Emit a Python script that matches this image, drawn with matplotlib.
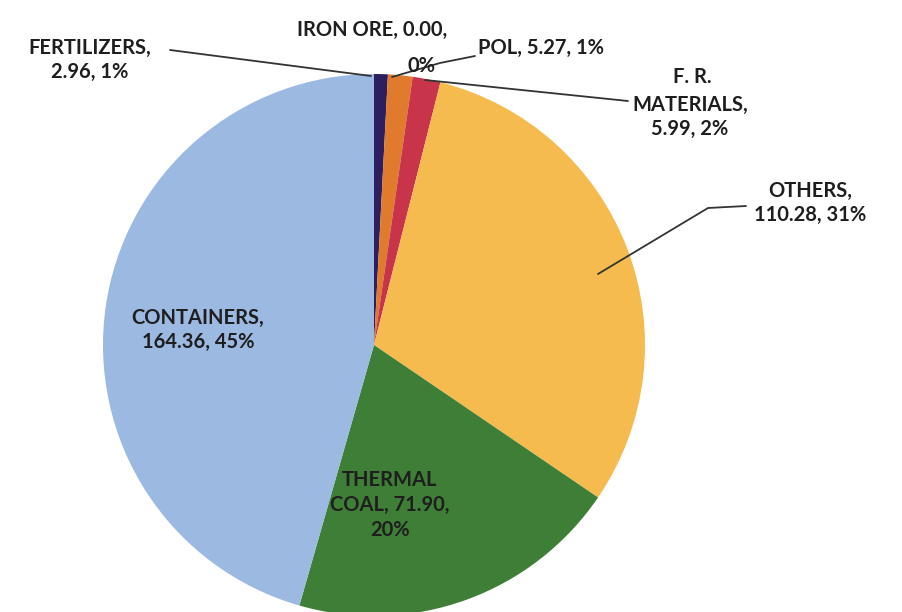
import matplotlib
matplotlib.use("Agg")
import matplotlib.pyplot as plt
import numpy as np

categories = ["FERTILIZERS", "IRON ORE", "POL", "F. R. MATERIALS", "OTHERS", "THERMAL COAL", "CONTAINERS"]
values = [2.96, 0.00, 5.27, 5.99, 110.28, 71.90, 164.36]
pct_labels = ["1%", "0%", "1%", "2%", "31%", "20%", "45%"]
colors = ["#2d1f5f", "#8c8c8c", "#e07a2c", "#c8344a", "#f5bb4e", "#3f7e36", "#9cb9e2"]

W, H = 902, 612
fig = plt.figure(figsize=(W / 100, H / 100), dpi=100)
ax = fig.add_axes([0, 0, 1, 1])

cx, cy, r = 374, H - 345, 271
ax.pie(values, colors=colors, startangle=90, counterclock=False,
       center=(cx, cy), radius=r, frame=True,
       wedgeprops=dict(linewidth=0))
ax.set_xlim(0, W)
ax.set_ylim(0, H)
ax.set_aspect("equal")
ax.axis("off")

font = dict(family=["Lato", "DejaVu Sans"], fontweight="bold", fontsize=14.5, color="#1e1e1e")

def lab(i, text_fmt):
    return text_fmt.format(n=categories[i], v=values[i], p=pct_labels[i])

def T(x, y, s, ha="center"):
    ax.text(x, H - y, s, ha=ha, va="center", linespacing=1.3, **font)

def L(pts):
    xs = [p[0] for p in pts]
    ys = [H - p[1] for p in pts]
    ax.plot(xs, ys, color="#333333", lw=1.3, solid_capstyle="round")

# Fertilizers
T(90, 60, lab(0, "{n},\n{v:.2f}, {p}"))
L([(170, 50), (371, 76)])
# Iron ore
T(372, 30, lab(1, "{n}, {v:.2f},"))
T(422, 66, pct_labels[1])
# POL
T(478, 48, lab(2, "{n}, {v:.2f}, {p}"), ha="left")
L([(475, 56), (440, 63), (392, 77)])
# F. R. Materials
T(692, 77, "F. R.")
T(690, 117, "MATERIALS,\n{:.2f}, {}".format(values[3], pct_labels[3]))
L([(628, 101), (425, 80)])
# Others
T(810, 203, lab(4, "{n},\n{v:.2f}, {p}"))
L([(746, 206), (708, 208), (598, 274)])
# Containers
T(198, 330, lab(6, "{n},\n{v:.2f}, {p}"))
# Thermal coal
T(390, 505, "THERMAL\nCOAL, {:.2f},\n{}".format(values[5], pct_labels[5]))

fig.savefig("out.png", dpi=100, facecolor="white")
